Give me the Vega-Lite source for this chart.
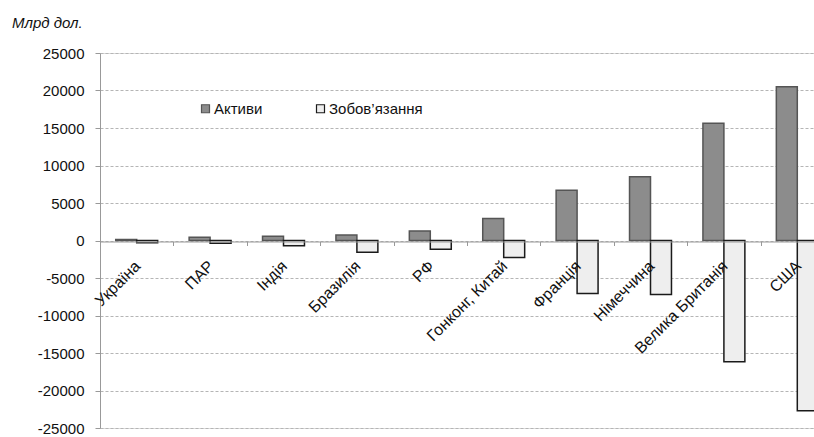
{
  "$schema": "https://vega.github.io/schema/vega-lite/v6.json",
  "autosize": {"type": "none"},
  "width": 714,
  "height": 375,
  "padding": {"left": 100, "top": 53, "right": 0, "bottom": 9},
  "background": "#ffffff",
  "title": {
    "text": "Млрд дол.",
    "anchor": "start",
    "frame": "group",
    "orient": "top",
    "dx": -88,
    "offset": 15,
    "font": "Liberation Sans",
    "fontSize": 15,
    "fontStyle": "italic",
    "fontWeight": "normal",
    "color": "#111111"
  },
  "data": {
    "values": [
      {"country": "Україна", "series": "Активи", "value": 150},
      {"country": "Україна", "series": "Зобов’язання", "value": -300},
      {"country": "ПАР", "series": "Активи", "value": 420},
      {"country": "ПАР", "series": "Зобов’язання", "value": -350},
      {"country": "Індія", "series": "Активи", "value": 560},
      {"country": "Індія", "series": "Зобов’язання", "value": -700},
      {"country": "Бразилія", "series": "Активи", "value": 730},
      {"country": "Бразилія", "series": "Зобов’язання", "value": -1550},
      {"country": "РФ", "series": "Активи", "value": 1280},
      {"country": "РФ", "series": "Зобов’язання", "value": -1150},
      {"country": "Гонконг, Китай", "series": "Активи", "value": 2950},
      {"country": "Гонконг, Китай", "series": "Зобов’язання", "value": -2250},
      {"country": "Франція", "series": "Активи", "value": 6700},
      {"country": "Франція", "series": "Зобов’язання", "value": -7050},
      {"country": "Німеччина", "series": "Активи", "value": 8500},
      {"country": "Німеччина", "series": "Зобов’язання", "value": -7200},
      {"country": "Велика Британія", "series": "Активи", "value": 15650},
      {"country": "Велика Британія", "series": "Зобов’язання", "value": -16150},
      {"country": "США", "series": "Активи", "value": 20500},
      {"country": "США", "series": "Зобов’язання", "value": -22700}
    ]
  },
  "mark": {"type": "bar", "strokeWidth": 1.5},
  "encoding": {
    "x": {
      "field": "country",
      "type": "nominal",
      "sort": null,
      "scale": {"range": [0, 734], "paddingInner": 0, "paddingOuter": 0},
      "axis": {
        "title": null,
        "zindex": 1,
        "offset": -186.5,
        "labelAngle": -45,
        "labelFont": "Liberation Sans",
        "labelFontSize": 16,
        "labelColor": "#111111",
        "labelPadding": 12,
        "labelOffset": -5,
        "labelLimit": 300,
        "labelOverlap": false,
        "labelBound": false,
        "tickBand": "extent",
        "tickSize": 4,
        "tickColor": "#999999",
        "domainColor": "#999999",
        "grid": false
      }
    },
    "xOffset": {
      "field": "series",
      "type": "nominal",
      "scale": {"paddingInner": 0, "paddingOuter": 0.75}
    },
    "y": {
      "field": "value",
      "type": "quantitative",
      "scale": {"domain": [-25000, 25000], "nice": false, "zero": false},
      "axis": {
        "title": null,
        "values": [-25000, -20000, -15000, -10000, -5000, 0, 5000, 10000, 15000, 20000, 25000],
        "labelExpr": "'' + datum.value",
        "labelFont": "Liberation Sans",
        "labelFontSize": 15,
        "labelColor": "#111111",
        "labelPadding": 11,
        "tickSize": 5,
        "tickColor": "#999999",
        "domainColor": "#999999",
        "gridColor": "#b5b5b5",
        "gridDash": [3, 2],
        "gridWidth": 1
      }
    },
    "color": {
      "field": "series",
      "type": "nominal",
      "scale": {"domain": ["Активи", "Зобов’язання"], "range": ["#8c8c8c", "#eeeeee"]},
      "legend": {
        "title": null,
        "orient": "none",
        "direction": "horizontal",
        "legendX": 98,
        "legendY": 48,
        "padding": 0,
        "symbolType": "square",
        "symbolSize": 64,
        "symbolStrokeWidth": 1.2,
        "labelFont": "Liberation Sans",
        "labelFontSize": 15,
        "labelColor": "#111111",
        "labelOffset": 1,
        "columnPadding": 50
      }
    },
    "stroke": {
      "field": "series",
      "type": "nominal",
      "scale": {"domain": ["Активи", "Зобов’язання"], "range": ["#555555", "#1a1a1a"]}
    }
  }
}
